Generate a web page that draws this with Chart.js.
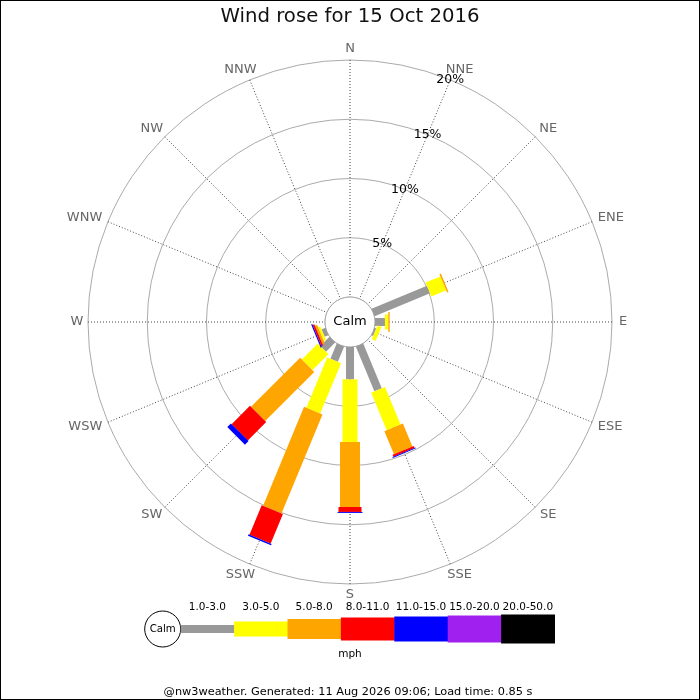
<!DOCTYPE html>
<html><head><meta charset="utf-8">
<script src="https://cdn.jsdelivr.net/npm/chart.js@4"></script>
<style>html,body{margin:0;padding:0;background:#fff}canvas{display:block}</style>
</head><body>
<canvas id="c" width="700" height="700"></canvas>
<script>
// ---- data ----
const directions = ['N','NNE','NE','ENE','E','ESE','SE','SSE','S','SSW','SW','WSW','W','WNW','NW','NNW'];
const speedClasses = ['1.0-3.0','3.0-5.0','5.0-8.0','8.0-11.0','11.0-15.0','15.0-20.0','20.0-50.0'];
// percent of the day, per direction, for each speed class (mph)
const pct_1_3   = [0,0,0,5.06,0.84,0.15,0,4.08,2.73,1.39,1.10,0.35,0,0,0,0];
const pct_3_5   = [0,0,0,1.35,0.28,0.35,0,3.43,5.29,4.60,1.90,0.20,0,0,0,0];
const pct_5_8   = [0,0,0,0.13,0.12,0,0,2.11,5.48,9.03,5.86,0.20,0,0,0,0];
const pct_8_11  = [0,0,0,0,0,0,0,0.17,0.42,2.70,2.19,0.15,0,0,0,0];
const pct_11_15 = [0,0,0,0,0,0,0,0.08,0.08,0.13,0.43,0.10,0,0,0,0];
const pct_15_20 = [0,0,0,0,0,0,0,0,0,0,0,0,0,0,0,0];
const pct_20_50 = [0,0,0,0,0,0,0,0,0,0,0,0,0,0,0,0];
const ringTicks = [0,5,10,15,20];
const titleText = 'Wind rose for 15 Oct 2016';
const calmText = 'Calm';
const unitText = 'mph';
const footerText = '@nw3weather. Generated: 11 Aug 2026 09:06; Load time: 0.85 s';

// ---- styles ----
const classColors = ['#999999','#ffff00','#ffa500','#ff0000','#0000ff','#a020f0','#000000'];
const classWidths = [8,15,20,23,25,27,29];
const FONT = "'DejaVu Sans', sans-serif";
const rMax = 20;
const calmRatio = 25/262;
const rMin = -rMax*calmRatio/(1-calmRatio);

const series = [pct_1_3,pct_3_5,pct_5_8,pct_8_11,pct_11_15,pct_15_20,pct_20_50];
const cumul = [];
series.forEach((arr,k)=>{ cumul.push(arr.map((v,i)=> v + (k ? cumul[k-1][i] : 0))); });

const rosePlugin = {
  id: 'rose',
  afterDatasetsDraw(chart) {
    const s = chart.scales.r, ctx = chart.ctx;
    const cx = s.xCenter, cy = s.yCenter, R = s.drawingArea;
    ctx.save();
    // calm hole
    const r0 = s.getDistanceFromCenterForValue(0);
    ctx.beginPath(); ctx.arc(cx, cy, r0, 0, Math.PI*2);
    ctx.fillStyle = '#fff'; ctx.fill();
    ctx.strokeStyle = '#aaaaaa'; ctx.lineWidth = 1; ctx.stroke();
    // bars
    ctx.lineCap = 'butt';
    chart.data.datasets.forEach((ds,k)=>{
      ds.data.forEach((v,i)=>{
        const prev = k ? chart.data.datasets[k-1].data[i] : 0;
        if (v - prev <= 0.0001) return;
        const a = s.getPointPositionForValue(i, prev);
        const b = s.getPointPositionForValue(i, v);
        ctx.beginPath(); ctx.moveTo(a.x,a.y); ctx.lineTo(b.x,b.y);
        ctx.strokeStyle = ds.backgroundColor; ctx.lineWidth = classWidths[k]; ctx.stroke();
      });
    });
    // calm text
    ctx.fillStyle = '#000'; ctx.textAlign = 'center'; ctx.textBaseline = 'middle';
    ctx.font = '13px ' + FONT;
    ctx.fillText(calmText, cx, cy);
    // ring labels along NNE
    ctx.font = '12.5px ' + FONT;
    ringTicks.forEach(v=>{
      if (v <= 0) return;
      const p = s.getPointPositionForValue(1, v);
      ctx.fillText(v + '%', p.x, p.y);
    });
    // compass labels
    ctx.font = '13px ' + FONT; ctx.fillStyle = '#666666';
    directions.forEach((d,i)=>{
      const ang = s.getIndexAngle(i);
      const sn = Math.sin(ang), w = ctx.measureText(d).width;
      const p = s.getPointPosition(i, R + 11);
      let dx = 0;
      if (Math.abs(sn) > 0.99 || Math.abs(sn) < 0.01) dx = 0;
      else if (Math.abs(sn) > 0.9) dx = Math.sign(sn) * (w/2 - 4.5);
      else dx = Math.sign(sn) * 5.2;
      ctx.fillText(d, p.x + dx, p.y);
    });
    // legend
    const ly = 629, lx0 = 180.7, segW = 53.4, calmR = 18;
    ctx.beginPath(); ctx.arc(lx0 - calmR, ly, calmR, 0, Math.PI*2);
    ctx.fillStyle = '#fff'; ctx.fill(); ctx.strokeStyle = '#000'; ctx.lineWidth = 1; ctx.stroke();
    ctx.fillStyle = '#000'; ctx.font = '10.2px ' + FONT;
    ctx.fillText(calmText, lx0 - calmR, ly);
    ctx.font = '10.5px ' + FONT;
    speedClasses.forEach((lab,k)=>{
      const h = classWidths[k];
      ctx.fillStyle = classColors[k];
      ctx.fillRect(lx0 + k*segW, ly - h/2, segW + 0.5, h);
      ctx.fillStyle = '#000';
      ctx.fillText(lab, lx0 + (k+0.5)*segW, 607);
    });
    ctx.fillText(unitText, 350, 654);
    // footer
    ctx.font = '11.3px ' + FONT;
    ctx.fillText(footerText, 348, 692.5);
    // frame
    ctx.strokeStyle = '#000'; ctx.lineWidth = 1;
    ctx.strokeRect(0.5, 0.5, chart.width - 1, chart.height - 1);
    ctx.restore();
  }
};

Chart.defaults.font.family = FONT;
new Chart(document.getElementById('c'), {
  type: 'radar',
  data: {
    labels: directions,
    datasets: cumul.map((d,k)=>({
      label: speedClasses[k], data: d,
      backgroundColor: classColors[k], borderColor: classColors[k],
      borderWidth: 0, pointRadius: 0, pointHoverRadius: 0, pointHitRadius: 0,
      showLine: false, fill: false
    }))
  },
  options: {
    responsive: false, animation: false, events: [], devicePixelRatio: 1,
    layout: { padding: { left: 88, right: 88, top: 0, bottom: 115 } },
    plugins: {
      legend: { display: false }, tooltip: { enabled: false },
      title: { display: true, text: titleText, color: '#111',
               font: { size: 19.7, weight: 'normal', family: FONT, lineHeight: 1.2 },
               padding: { top: 5, bottom: 31.4 } }
    },
    scales: { r: {
      min: rMin, max: rMax, startAngle: 0,
      afterBuildTicks: sc => { sc.ticks = ringTicks.map(v => ({ value: v })); },
      ticks: { display: false },
      pointLabels: { display: false },
      grid: { circular: true, color: '#aaaaaa', lineWidth: 1 },
      angleLines: { color: '#444444', lineWidth: 1, borderDash: [1, 2] }
    } }
  },
  plugins: [rosePlugin]
});
</script>
</body></html>
